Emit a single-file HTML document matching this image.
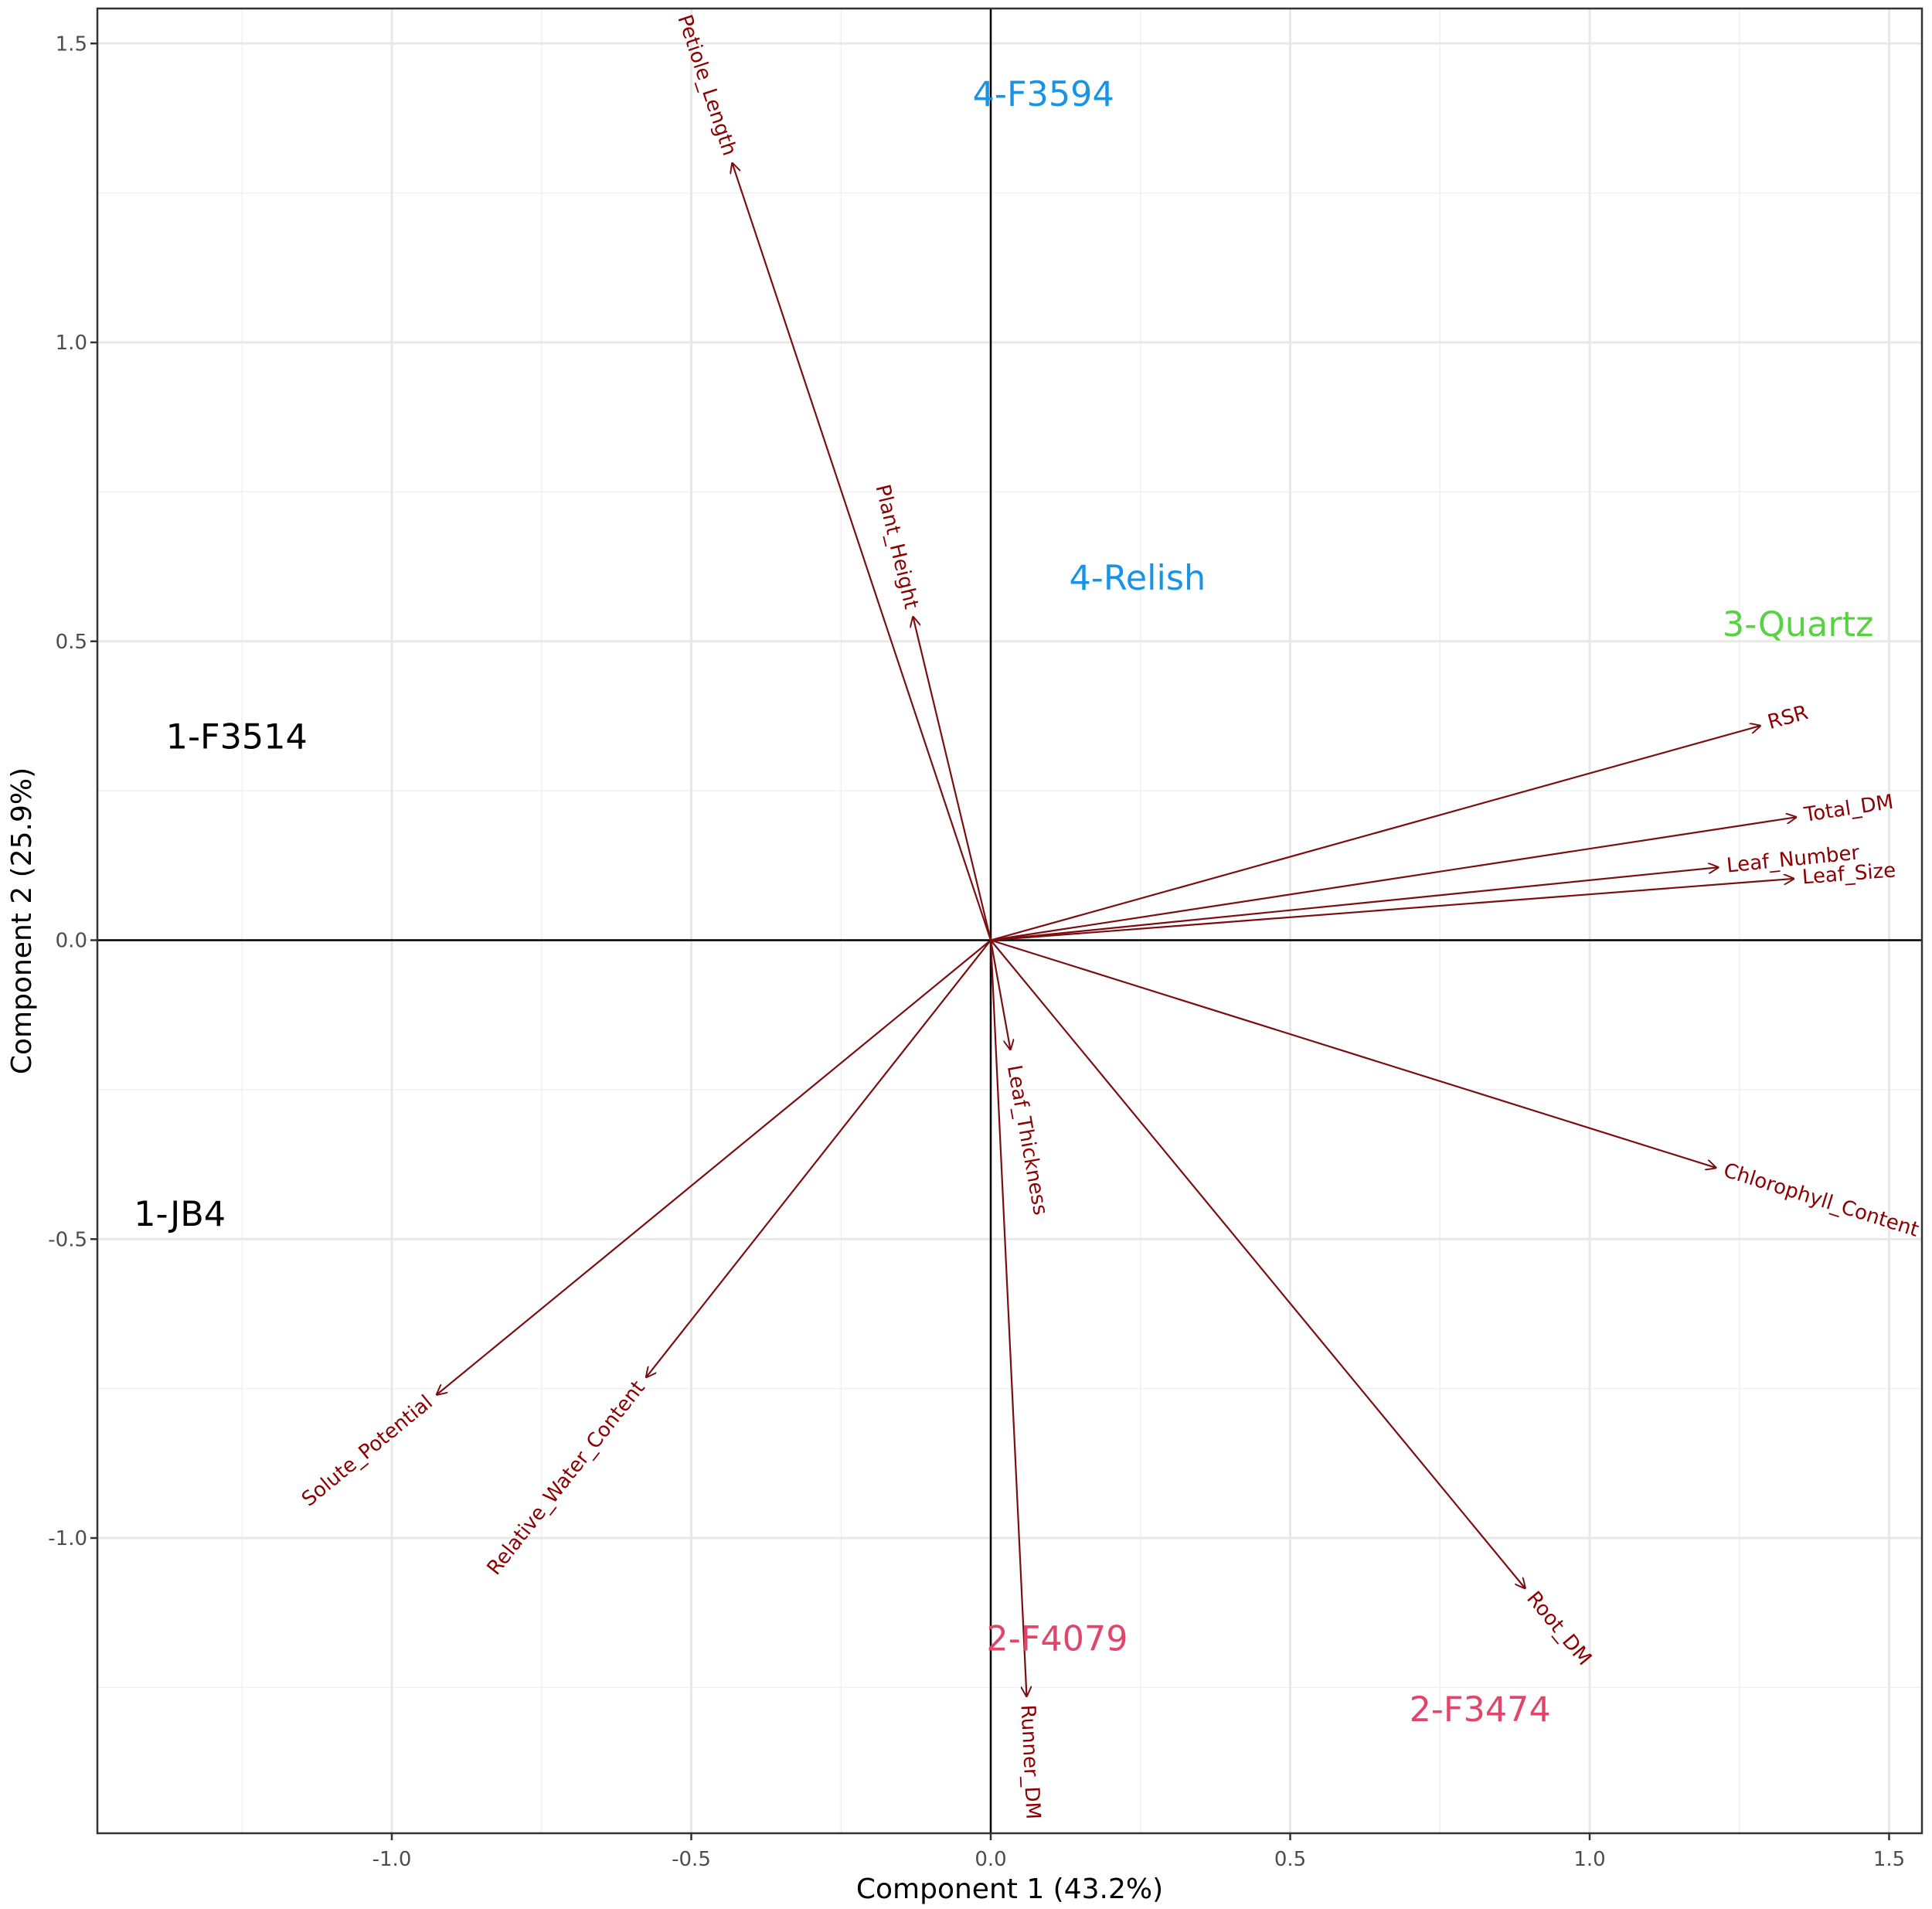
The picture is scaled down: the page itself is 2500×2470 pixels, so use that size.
<!DOCTYPE html>
<html><head><meta charset="utf-8"><style>body{margin:0;background:#fff}svg{display:block}text{font-family:"DejaVu Sans","Liberation Sans",sans-serif}</style></head>
<body>
<svg id="chart" width="2500" height="2470" xmlns="http://www.w3.org/2000/svg"></svg>
<script>
const varNames=["Petiole_Length","Plant_Height","RSR","Total_DM","Leaf_Number","Leaf_Size","Chlorophyll_Content","Root_DM","Runner_DM","Leaf_Thickness","Relative_Water_Content","Solute_Potential"];
const varX=[-0.432,-0.130,1.286,1.346,1.216,1.342,1.212,0.893,0.060,0.033,-0.576,-0.926];
const varY=[1.301,0.542,0.359,0.206,0.122,0.103,-0.381,-1.085,-1.266,-0.184,-0.732,-0.761];
const groupNames=["4-F3594","4-Relish","3-Quartz","1-F3514","1-JB4","2-F4079","2-F3474"];
const groupX=[0.088,0.245,1.348,-1.259,-1.354,0.111,0.817];
const groupY=[1.415,0.606,0.528,0.340,-0.458,-1.169,-1.287];
const groupColor=["#1a93e6","#1a93e6","#57d243","#000000","#000000","#e2456a","#e2456a"];
const xTicks=[-1.0,-0.5,0.0,0.5,1.0,1.5];
const yTicks=[-1.0,-0.5,0.0,0.5,1.0,1.5];
const L=126,R=2487,T=11,B=2372;
const sx=v=>1282+v*775, sy=v=>1216.5-v*773.5;
const NS="http://www.w3.org/2000/svg";
const svg=document.getElementById('chart');
function mk(tag,attrs,parent){const e=document.createElementNS(NS,tag);for(const k in attrs)e.setAttribute(k,attrs[k]);(parent||svg).appendChild(e);return e;}
const defs=mk('defs',{});
const mkr=mk('marker',{id:'ah',viewBox:'0 0 10 10',refX:'10',refY:'5',markerWidth:'14',markerHeight:'14',markerUnits:'userSpaceOnUse',orient:'auto'},defs);
mk('path',{d:'M0,0 L10,5 L0,10',fill:'none',stroke:'#7a0e10','stroke-width':'1.4'},mkr);
mk('rect',{x:L,y:T,width:R-L,height:B-T,fill:'#fff'});
for(let v=-1.25;v<=1.6;v+=0.5){const g=mk('line',{x1:sx(v),x2:sx(v),y1:T,y2:B,stroke:'#f0f0f0','stroke-width':1.5});}
for(let v=-1.25;v<=1.6;v+=0.5){const g=mk('line',{x1:L,x2:R,y1:sy(v),y2:sy(v),stroke:'#f0f0f0','stroke-width':1.5});}
xTicks.forEach(v=>{const g=mk('line',{x1:sx(v),x2:sx(v),y1:T,y2:B,stroke:'#e8e8e8','stroke-width':3});
 mk('line',{x1:sx(v),x2:sx(v),y1:B,y2:B+9,stroke:'#333','stroke-width':2.5});
 const t=mk('text',{x:sx(v),y:B+42,'text-anchor':'middle','font-size':26,fill:'#4d4d4d'});t.textContent=v.toFixed(1);});
yTicks.forEach(v=>{const g=mk('line',{x1:L,x2:R,y1:sy(v),y2:sy(v),stroke:'#e8e8e8','stroke-width':3});
 mk('line',{x1:L-9,x2:L,y1:sy(v),y2:sy(v),stroke:'#333','stroke-width':2.5});
 const t=mk('text',{x:L-13,y:sy(v)+9,'text-anchor':'end','font-size':26,fill:'#4d4d4d'});t.textContent=v.toFixed(1);});
mk('line',{x1:sx(0),x2:sx(0),y1:T,y2:B,stroke:'#000','stroke-width':2.5});
mk('line',{x1:L,x2:R,y1:sy(0),y2:sy(0),stroke:'#000','stroke-width':2.5});
varNames.forEach((n,i)=>{
 const x2=sx(varX[i]),y2=sy(varY[i]),x1=sx(0),y1=sy(0);
 const a=mk('line',{x1,y1,x2,y2,stroke:'#7a0e10','stroke-width':2.2,'marker-end':'url(#ah)'});
 
 const dx=x2-x1,dy=y2-y1,len=Math.hypot(dx,dy),ux=dx/len,uy=dy/len;
 const off=n==="Leaf_Thickness"?20:10;
 const px=x2+ux*off,py=y2+uy*off;
 let ang=Math.atan2(dy,dx)*180/Math.PI,anchor='start';
 if(dx<0){ang+=180;anchor='end';}
 const t=mk('text',{x:px,y:py,'text-anchor':anchor,'dominant-baseline':'middle','font-size':26,fill:'#8b0000',transform:`rotate(${ang} ${px} ${py})`});
 t.textContent=n;
});
groupNames.forEach((n,i)=>{const t=mk('text',{x:sx(groupX[i]),y:sy(groupY[i])+15,'text-anchor':'middle','font-size':44.5,fill:groupColor[i]});t.textContent=n;});
mk('rect',{x:L,y:T,width:R-L,height:B-T,fill:'none',stroke:'#333','stroke-width':2.5});
const xt=mk('text',{x:(L+R)/2,y:2456,'text-anchor':'middle','font-size':36,fill:'#000'});xt.textContent='Component 1 (43.2%)';
const yt=mk('text',{x:30,y:(T+B)/2,'text-anchor':'middle','font-size':36,fill:'#000',transform:`rotate(-90 30 ${(T+B)/2})`,'dominant-baseline':'middle'});yt.textContent='Component 2 (25.9%)';
</script>
</body></html>
